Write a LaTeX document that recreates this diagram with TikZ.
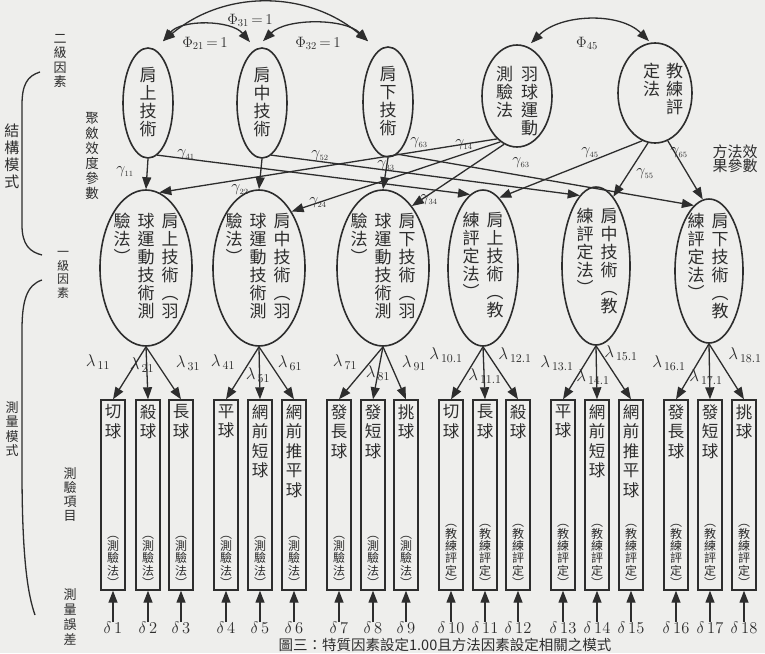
\RequirePackage{fix-cm}
\documentclass[tikz,border=0pt]{standalone}
\usepackage{fontspec}
\setmainfont{Noto Sans CJK TC}
\usetikzlibrary{arrows.meta,shapes.geometric}
\definecolor{ink}{RGB}{45,45,45}
\definecolor{paper}{RGB}{238,238,236}
\newcommand\fsz[1]{\fontsize{#1}{#1}\selectfont}
\makeatletter
\newcommand\vcol[2]{\edef\vc@list{#2}\vtop{\baselineskip=#1\lineskiplimit=-100pt\lineskip=0pt
  \expandafter\@tfor\expandafter\vc@c\expandafter:\expandafter=\vc@list\do{\hbox to 1em{\hss\vc@c\hss}}}}
\makeatother
\tikzset{
  tip/.tip={Triangle[length=12pt,width=9pt]},
  arr/.style={draw=ink, line width=1.3pt, -tip},
  darr/.style={draw=ink, line width=1.3pt, tip-tip},
  fac/.style={ellipse, draw=ink, line width=1.6pt, inner sep=0pt},
  itembox/.style={rectangle, draw=ink, line width=1.4pt, minimum width=24pt, minimum height=190pt, inner sep=0pt},
  txt/.style={inner sep=0pt, text=ink},
  brace/.style={draw=ink, line width=1.3pt},
}
\begin{document}
\begin{tikzpicture}[x=1pt,y=-1pt]
\fill[paper] (0,0) rectangle (765,653);
\useasboundingbox (0,0) rectangle (765,653);

% second-level factors
\node[fac, minimum width=50pt, minimum height=110pt] (F1) at (148,103) {};
\node[fac, minimum width=50pt, minimum height=110pt] (F2) at (262,103) {};
\node[fac, minimum width=50pt, minimum height=110pt] (F3) at (388,102) {};
\node[fac, minimum width=70pt, minimum height=102pt] (F4) at (517,96) {};
\node[fac, minimum width=74pt, minimum height=100pt] (F5) at (655,93) {};
\node[txt, font=\fsz{17}] (F1t) at (148,102) {\vcol{18pt}{肩上技術}};
\node[txt, font=\fsz{17}] (F2t) at (262,102) {\vcol{18pt}{肩中技術}};
\node[txt, font=\fsz{17}] (F3t) at (388,101) {\vcol{18pt}{肩下技術}};
\node[txt, font=\fsz{17}] (F4t) at (517,101) {\vcol{18pt}{測驗法}\hskip8pt\vcol{18pt}{羽球運動}};
\node[txt, font=\fsz{17}] (F5t) at (663,89) {\vcol{18pt}{定法}\hskip6pt\vcol{18pt}{教練評}};

% first-level factors
\node[fac, minimum width=92pt, minimum height=156pt] (E1) at (146,268) {};
\node[fac, minimum width=92pt, minimum height=156pt] (E2) at (259,268) {};
\node[fac, minimum width=92pt, minimum height=156pt] (E3) at (383,268) {};
\node[fac, minimum width=70pt, minimum height=156pt] (E4) at (483,268) {};
\node[fac, minimum width=68pt, minimum height=158pt] (E5) at (596,266) {};
\node[fac, minimum width=68pt, minimum height=144pt] (E6) at (709,271) {};
\node[txt, font=\fsz{17}] (E1t) at (146,266) {\vcol{18pt}{驗法︶}\hskip7pt\vcol{18pt}{球運動技術測}\hskip7pt\vcol{18pt}{肩上技術︵羽}};
\node[txt, font=\fsz{17}] (E2t) at (258,266) {\vcol{18pt}{驗法︶}\hskip7pt\vcol{18pt}{球運動技術測}\hskip7pt\vcol{18pt}{肩中技術︵羽}};
\node[txt, font=\fsz{17}] (E3t) at (383,266) {\vcol{18pt}{驗法︶}\hskip7pt\vcol{18pt}{球運動技術測}\hskip7pt\vcol{18pt}{肩下技術︵羽}};
\node[txt, font=\fsz{17}] (E4t) at (483,265) {\vcol{18pt}{練評定法︶}\hskip7pt\vcol{18pt}{肩上技術︵教}};
\node[txt, font=\fsz{17}] (E5t) at (597,261) {\vcol{18pt}{練評定法︶}\hskip7pt\vcol{18pt}{肩中技術︵教}};
\node[txt, font=\fsz{17}] (E6t) at (708,266) {\vcol{18pt}{練評定法︶}\hskip7pt\vcol{18pt}{肩下技術︵教}};

% measurement items
\foreach \i/\x/\ta/\tb in {1/113/切球/測驗法, 2/148/殺球/測驗法, 3/181/長球/測驗法,
  4/226/平球/測驗法, 5/260/網前短球/測驗法, 6/294/網前推平球/測驗法,
  7/339/發長球/測驗法, 8/373/發短球/測驗法, 9/406/挑球/測驗法,
  10/451/切球/教練評定, 11/485/長球/教練評定, 12/518/殺球/教練評定,
  13/563/平球/教練評定, 14/597/網前短球/教練評定, 15/631/網前推平球/教練評定,
  16/676/發長球/教練評定, 17/710/發短球/教練評定, 18/744/挑球/教練評定}{
  \node[itembox] (B\i) at (\x,495) {};
  \node[txt, anchor=north, font=\fsz{16.5}] (B\i a) at ([yshift=-5pt]B\i.north) {\vcol{19.5pt}{\ta}};
  \node[txt, anchor=south, font=\fsz{12}] (B\i b) at ([yshift=3pt]B\i.south) {\vcol{12.3pt}{︵\tb︶}};
  \node[txt, font=\fsz{16.5}, inner sep=4pt] (D\i) at (\x,628) {$\delta\,\i$};
  \draw[arr, shorten <=-4pt] (D\i.north) -- (B\i.south);
}

% loadings
\foreach \b/\e in {1/1,2/1,3/1,4/2,5/2,6/2,7/3,8/3,9/3,10/4,11/4,12/4,13/5,14/5,15/5,16/6,17/6,18/6}
  \draw[arr] (E\e.south) -- (B\b.north);
\foreach \s/\x/\y [count=\i] in {11/98/362, 21/142/365, 31/188/363, 41/223/362, 51/258/375, 61/290/363,
  71/345/362, 81/378/373, 91/414/363, 10.1/446/355, 11.1/485/376, 12.1/515/355,
  13.1/557/363, 14.1/593/377, 15.1/621/353, 16.1/669/363, 17.1/706/377, 18.1/745/355}
  \node[txt, font=\fsz{17}] (lam\i) at (\x,\y) {$\lambda_{\,\s}$};

% structural paths
\draw[arr] (F1.south) -- (E1.north);
\draw[arr] (F2.south) -- (E2.north);
\draw[arr] (F3.south) -- (E3.north);
\draw[arr] (F1.-80) -- (E4.100);
\draw[arr] (F2.-80) -- (E5.103);
\draw[arr] (F3.-80) -- (E6.103);
\draw[arr] (F4.-115) -- (E1.80);
\draw[arr] (F4.-110) -- (E2.60);
\draw[arr] (F4.-105) -- (E3.65);
\draw[arr] (F5.-105) -- (E4.77);
\draw[arr] (F5.-98) -- (E5.76);
\draw[arr] (F5.-75) -- (E6.95);

\tikzset{gl/.style={txt, font=\fsz{16}}}
\node[gl] (g11) at (125,172) {$\gamma_{\scriptscriptstyle 11}$};
\node[gl] (g41) at (186,155) {$\gamma_{\scriptscriptstyle 41}$};
\node[gl] (g22) at (240,190) {$\gamma_{\scriptscriptstyle 22}$};
\node[gl] (g52) at (320,156) {$\gamma_{\scriptscriptstyle 52}$};
\node[gl] (g24) at (318,203) {$\gamma_{\scriptscriptstyle 24}$};
\node[gl] (g33) at (386,166) {$\gamma_{\scriptscriptstyle 33}$};
\node[gl] (g34) at (429,200) {$\gamma_{\scriptscriptstyle 34}$};
\node[gl] (g63a) at (419,143) {$\gamma_{\scriptscriptstyle 63}$};
\node[gl] (g14) at (464,145) {$\gamma_{\scriptscriptstyle 14}$};
\node[gl] (g63b) at (521,163) {$\gamma_{\scriptscriptstyle 63}$};
\node[gl] (g45) at (590,153) {$\gamma_{\scriptscriptstyle 45}$};
\node[gl] (g55) at (645,174) {$\gamma_{\scriptscriptstyle 55}$};
\node[gl] (g65) at (679,153) {$\gamma_{\scriptscriptstyle 65}$};

% correlations
\draw[darr] ([xshift=15pt,yshift=6pt]F1.north) to[out=40,in=140] ([xshift=-20pt,yshift=5pt]F3.north);
\draw[darr] ([xshift=15pt,yshift=6pt]F1.north) to[out=50,in=130,looseness=0.85] ([xshift=-12pt,yshift=5pt]F2.north);
\draw[darr] ([xshift=1pt,yshift=6pt]F2.north) to[out=45,in=135,looseness=0.8] ([xshift=-20pt,yshift=5pt]F3.north);
\draw[darr] ([xshift=14pt,yshift=1pt]F4.north) to[out=45,in=135,looseness=0.9] ([xshift=-6pt,yshift=1pt]F5.north);
\node[txt, font=\fsz{15}] (p31) at (250,20) {$\Phi_{31}\,{=}\,1$};
\node[txt, font=\fsz{15}] (p21) at (205,43) {$\Phi_{21}\,{=}\,1$};
\node[txt, font=\fsz{15}] (p32) at (318,43) {$\Phi_{32}\,{=}\,1$};
\node[txt, font=\fsz{15}] (p45) at (587,43) {$\Phi_{45}$};

% side labels
\node[txt, font=\fsz{13}] (L1) at (60,61) {\vcol{14.5pt}{二級因素}};
\node[txt, font=\fsz{15}] (L2) at (12,156) {\vcol{17pt}{結構模式}};
\node[txt, font=\fsz{13.5}] (L3) at (92,156) {\vcol{15pt}{聚斂效度參數}};
\node[txt, font=\fsz{12}] (L4) at (63,275) {\vcol{13.5pt}{一級因素}};
\node[txt, font=\fsz{13}] (L5) at (12,429) {\vcol{14.5pt}{測量模式}};
\node[txt, font=\fsz{13}] (L6) at (70,495) {\vcol{14pt}{測驗項目}};
\node[txt, font=\fsz{13}] (L7) at (70,617) {\vcol{15pt}{測量誤差}};
\node[txt, font=\fsz{15}, align=center] (R1) at (735,159) {方法效\\[-1pt]果參數};
\draw[brace] (40,72) .. controls (27,76) and (22,85) .. (22,105) -- (22,225) .. controls (22,245) and (30,252) .. (42,255);
\draw[brace] (42,280) .. controls (27,285) and (22,300) .. (22,330) -- (22,470) .. controls (22,560) and (28,595) .. (35,615);

% caption
\node[txt, font=\fsz{14.5}] (cap) at (445,645) {圖三：特質因素設定1.00且方法因素設定相關之模式};
\end{tikzpicture}
\end{document}
